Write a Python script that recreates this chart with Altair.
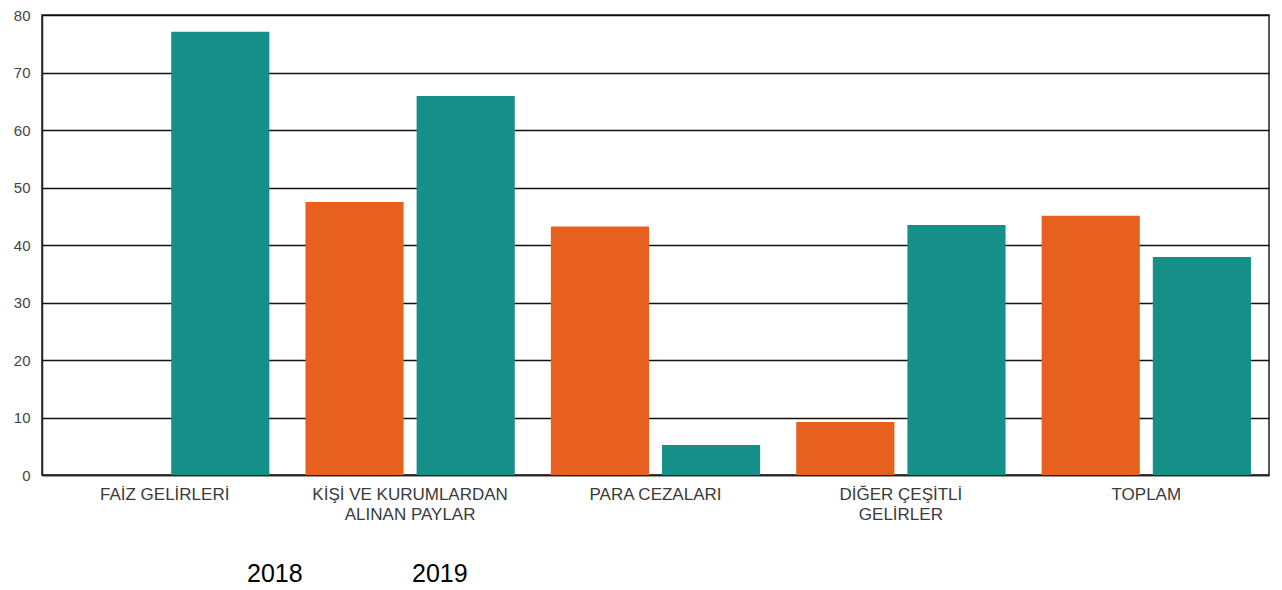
import altair as alt
import pandas as pd

categories = ["FAİZ GELİRLERİ", "KİŞİ VE KURUMLARDAN|ALINAN PAYLAR", "PARA CEZALARI",
              "DİĞER ÇEŞİTLİ|GELİRLER", "TOPLAM"]
years = ["2018", "2019"]
values_2018 = [0, 47.5, 43.2, 9.2, 45.1]
values_2019 = [77.1, 65.9, 5.2, 43.5, 37.9]
colors = ["#E8601F", "#168F89"]

rows = []
for c, a, b in zip(categories, values_2018, values_2019):
    rows.append({"kategori": c, "yil": years[0], "deger": a})
    rows.append({"kategori": c, "yil": years[1], "deger": b})
df = pd.DataFrame(rows)

font = "Liberation Sans"

chart = alt.Chart(df).mark_bar().encode(
    x=alt.X("kategori:N", sort=categories, title=None,
            scale=alt.Scale(paddingInner=0.147, paddingOuter=0.0735),
            axis=alt.Axis(labelAngle=0, ticks=False, domain=True, domainColor="#222",
                          domainWidth=1.5, labelFontSize=17, labelColor="#3a3a3a",
                          labelFont=font, labelPadding=11, labelLineHeight=20,
                          labelLimit=0, labelOverlap=False,
                          labelExpr="split(datum.label, '|')")),
    xOffset=alt.XOffset("yil:N", sort=years,
                        scale=alt.Scale(paddingInner=0.117, paddingOuter=0)),
    y=alt.Y("deger:Q", title=None,
            scale=alt.Scale(domain=[0, 80], nice=False),
            axis=alt.Axis(values=[0, 10, 20, 30, 40, 50, 60, 70, 80], ticks=False,
                          domain=True, domainColor="#222", domainWidth=1.5,
                          grid=True, gridColor="#111", gridWidth=1.5,
                          labelFontSize=15, labelColor="#444", labelFont=font,
                          labelPadding=12)),
    color=alt.Color("yil:N", sort=years,
                    scale=alt.Scale(domain=years, range=colors),
                    legend=alt.Legend(title=None, orient="none", direction="horizontal",
                                      legendX=180, legendY=546,
                                      symbolSize=0, symbolOpacity=0, symbolStrokeWidth=0,
                                      labelFontSize=25, labelColor="#000", labelFont=font,
                                      labelOffset=0, columnPadding=84)),
).properties(
    width=1227, height=460,
    autosize=alt.AutoSizeParams(type="none"),
    padding={"left": 34, "top": 7, "right": 5, "bottom": 115},
).configure_view(
    stroke="#222", strokeWidth=1.5
)

chart.save("out.html", embed_options={"renderer": "svg", "actions": False})
